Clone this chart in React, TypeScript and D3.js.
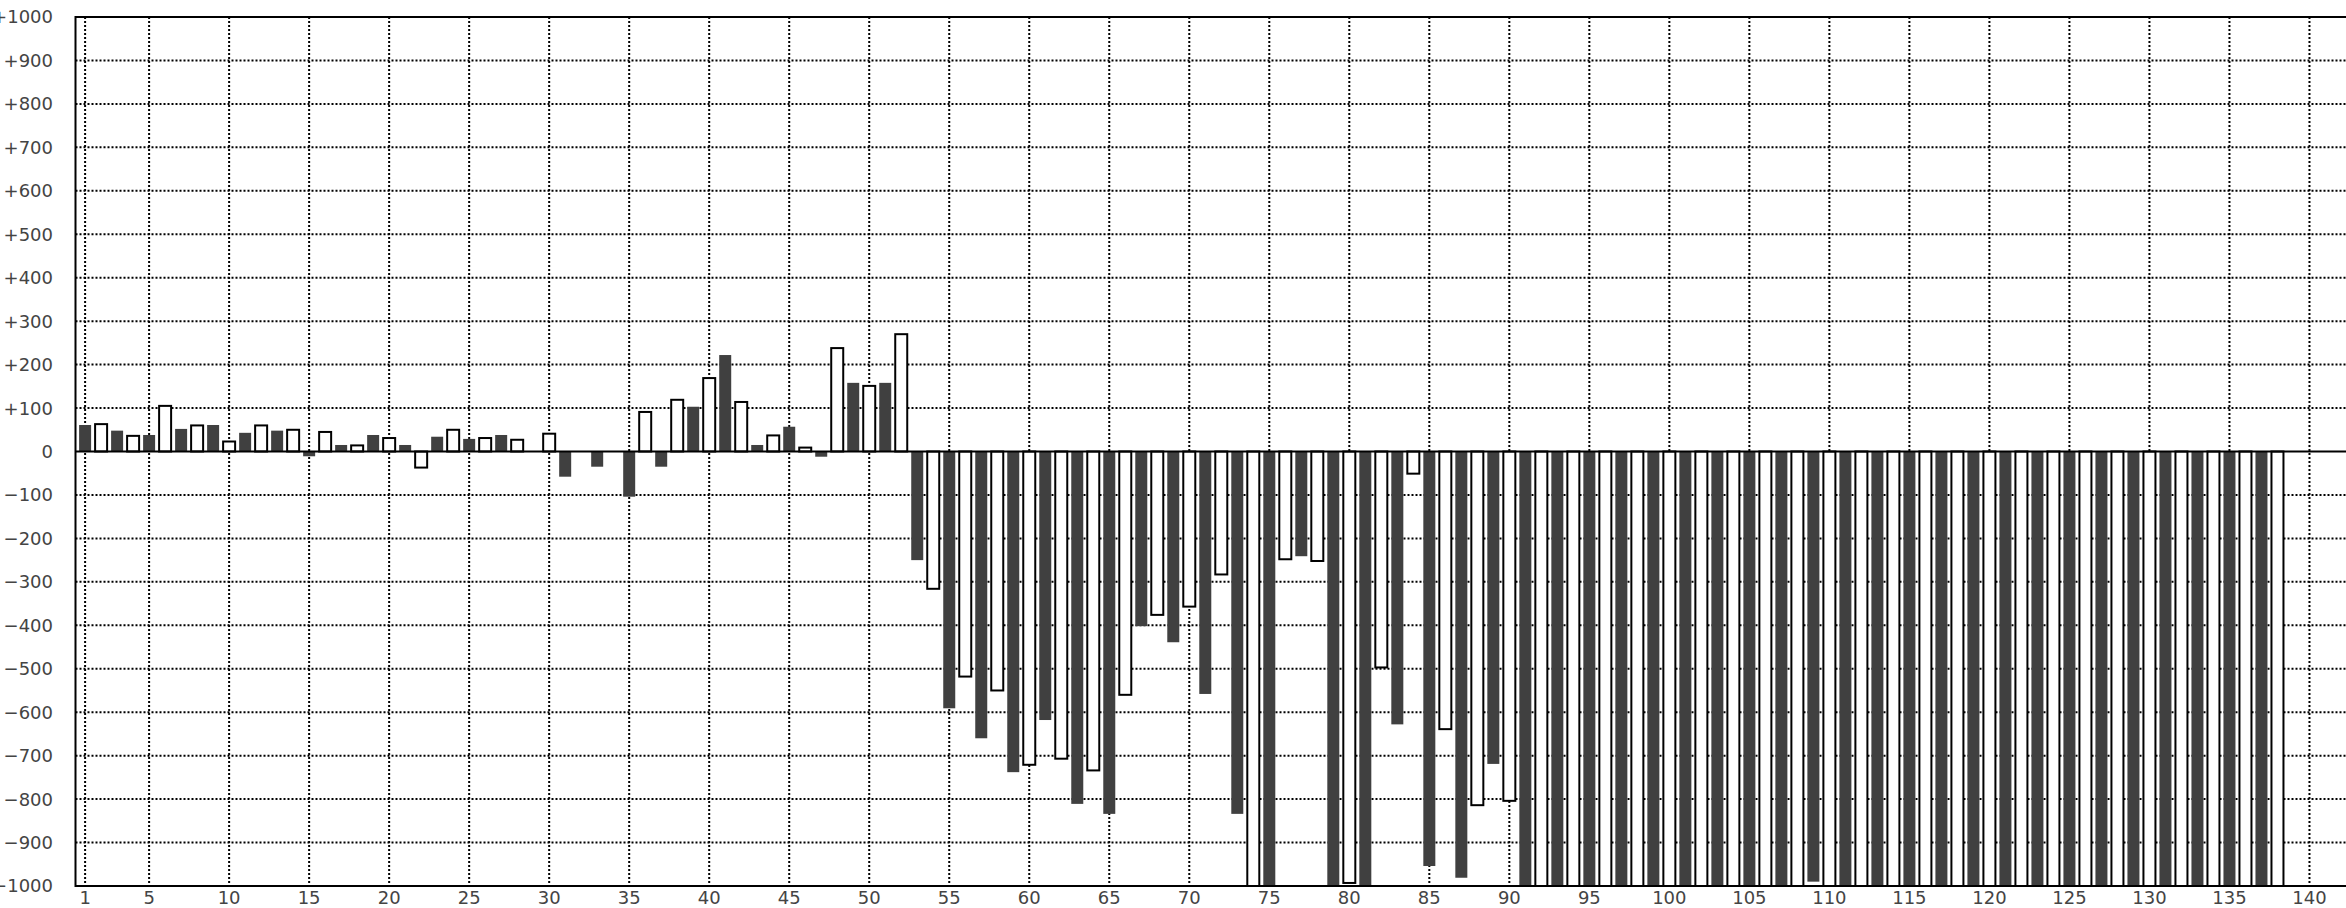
import React from "react";
import * as d3 from "d3";

// Dark bars at odd positions 1,3,5,...,137
const darkValues: number[] = [
  61, 48, 38, 52, 61, 43, 48, -11, 15, 38,
  15, 34, 29, 38, 0, -58, -35, -104, -35, 103,
  222, 15, 57, -12, 158, 158, -250, -591, -660, -738,
  -618, -811, -834, -402, -439, -558, -834, -1000, -241, -1000,
  -1000, -628, -954, -981, -719, -1000, -1000, -1000, -1000, -1000,
  -1000, -1000, -1000, -1000, -990, -1000, -1000, -1000, -1000, -1000,
  -1000, -1000, -1000, -1000, -1000, -1000, -1000, -1000, -1000,
];
// White bars at even positions 2,4,...,138
const whiteValues: number[] = [
  63, 36, 105, 60, 23, 60, 50, 45, 14, 31,
  -37, 50, 31, 27, 41, 0, 0, 91, 119, 169,
  114, 37, 9, 238, 151, 270, -316, -518, -550, -721,
  -707, -734, -560, -376, -357, -283, -1000, -248, -252, -993,
  -497, -51, -639, -814, -804, -1000, -1000, -1000, -1000, -1000,
  -1000, -1000, -1000, -1000, -1000, -1000, -1000, -1000, -1000, -1000,
  -1000, -1000, -1000, -1000, -1000, -1000, -1000, -1000, -1000,
];
const xTicks: number[] = [1, 5, 10, 15, 20, 25, 30, 35, 40, 45, 50, 55, 60, 65, 70, 75, 80, 85, 90, 95, 100, 105, 110, 115, 120, 125, 130, 135, 140];
const yTicks: number[] = [1000, 900, 800, 700, 600, 500, 400, 300, 200, 100, 0, -100, -200, -300, -400, -500, -600, -700, -800, -900, -1000];

const W = 2346;
const H = 908;
const left = 75.5;
const right = 2357;
const top = 17;
const bottom = 886;

export default function App() {
  const x = d3.scaleLinear().domain([0.4, 142.97]).range([left, right]);
  const y = d3.scaleLinear().domain([-1000, 1000]).range([bottom, top]);
  const unit = x(1) - x(0);
  const bw = unit * 0.75;

  const fmt = (v: number) => (v > 0 ? "+" + v : v < 0 ? "\u2212" + Math.abs(v) : "0");

  const dark = darkValues.map((v, i) => ({ pos: 2 * i + 1, v }));
  const white = whiteValues.map((v, i) => ({ pos: 2 * i + 2, v }));

  return (
    <svg
      width={W}
      height={H}
      style={{ position: "absolute", left: 0, top: 0, background: "#fff" }}
      fontFamily="DejaVu Sans"
    >
      <defs>
        <clipPath id="plot">
          <rect x={left} y={top} width={right - left} height={bottom - top} />
        </clipPath>
      </defs>
      <rect x={0} y={0} width={W} height={H} fill="#fff" />
      {/* grid */}
      <g stroke="#000" strokeWidth={2} strokeDasharray="2,2">
        {xTicks.map((t) => (
          <line key={"gx" + t} x1={x(t)} x2={x(t)} y1={top} y2={bottom} />
        ))}
        {yTicks
          .filter((t) => t !== 0 && Math.abs(t) !== 1000)
          .map((t) => (
            <line key={"gy" + t} x1={left} x2={right} y1={y(t)} y2={y(t)} />
          ))}
      </g>
      {/* bars */}
      <g clipPath="url(#plot)">
        {dark.map((d) => (
          <rect
            key={"d" + d.pos}
            x={x(d.pos) - bw / 2}
            width={bw}
            y={Math.min(y(d.v), y(0))}
            height={Math.abs(y(d.v) - y(0))}
            fill="#404040"
          />
        ))}
        {white
          .filter((d) => d.v !== 0)
          .map((d) => (
            <rect
              key={"w" + d.pos}
              x={x(d.pos) - bw / 2}
              width={bw}
              y={Math.min(y(d.v), y(0))}
              height={Math.abs(y(d.v) - y(0))}
              fill="#fff"
              stroke="#000"
              strokeWidth={2}
            />
          ))}
      </g>
      {/* zero line */}
      <line x1={left} x2={right} y1={y(0)} y2={y(0)} stroke="#000" strokeWidth={2} />
      {/* frame */}
      <rect x={left} y={top} width={right - left} height={bottom - top} fill="none" stroke="#000" strokeWidth={2} />
      {/* y labels */}
      <g fontSize={18} fill="#444" textAnchor="end">
        {yTicks.map((t) => (
          <text key={"yl" + t} x={53} y={y(t)} dy="0.36em">
            {fmt(t)}
          </text>
        ))}
      </g>
      {/* x labels */}
      <g fontSize={18} fill="#444" textAnchor="middle">
        {xTicks.map((t) => (
          <text key={"xl" + t} x={x(t)} y={904}>
            {t}
          </text>
        ))}
      </g>
    </svg>
  );
}
